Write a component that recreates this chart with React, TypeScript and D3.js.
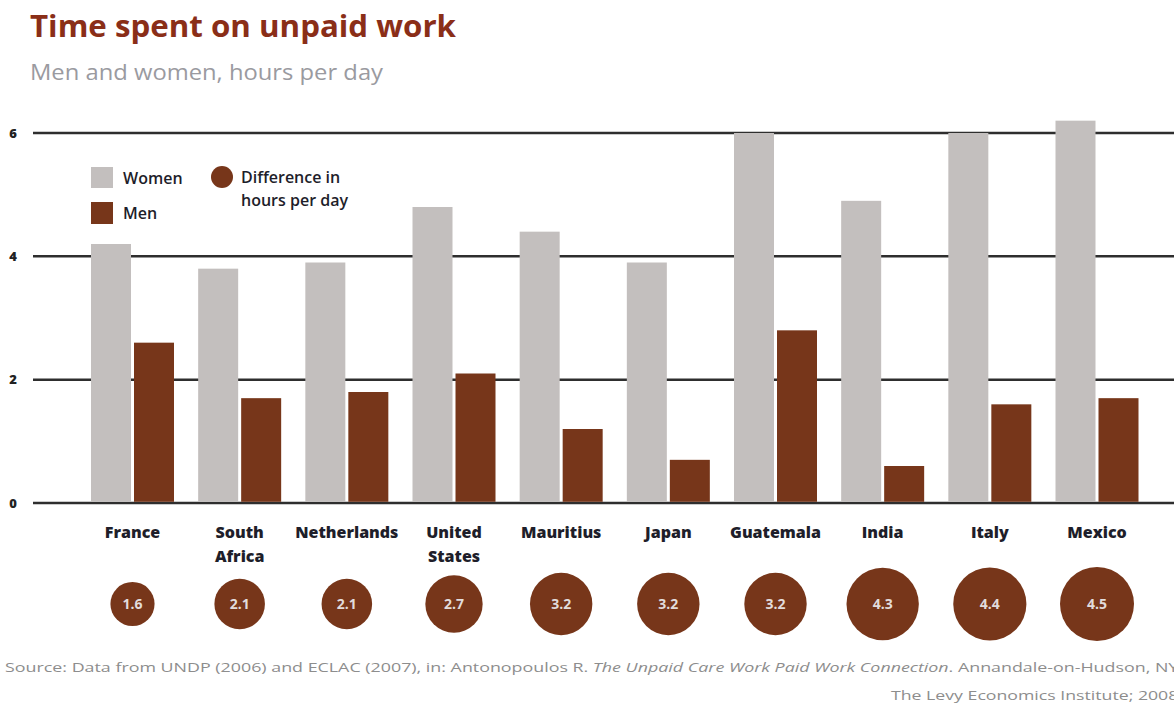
import React from "react";
import * as d3 from "d3";

const countries = ["France", "South Africa", "Netherlands", "United States", "Mauritius", "Japan", "Guatemala", "India", "Italy", "Mexico"];
const countryLines = [["France"], ["South", "Africa"], ["Netherlands"], ["United", "States"], ["Mauritius"], ["Japan"], ["Guatemala"], ["India"], ["Italy"], ["Mexico"]];
const women = [4.2, 3.8, 3.9, 4.8, 4.4, 3.9, 6.0, 4.9, 6.0, 6.2];
const men = [2.6, 1.7, 1.8, 2.1, 1.2, 0.7, 2.8, 0.6, 1.6, 1.7];
const difference = [1.6, 2.1, 2.1, 2.7, 3.2, 3.2, 3.2, 4.3, 4.4, 4.5];
const yTicks = [0, 2, 4, 6];

const W = 1174;
const H = 704;
const WOMEN_C = "#c3bfbe";
const MEN_C = "#77361a";
const GRID_C = "#2e2e2e";
const FONT = "'Open Sans', 'Noto Sans', sans-serif";

export default function App() {
  const x = d3.scalePoint<string>().domain(countries).range([132.5, 1097]);
  const y = d3.scaleLinear().domain([0, 6]).range([503, 133]);
  const r = d3.scaleSqrt().domain([0, 4.5]).range([0, 37]);
  const barW = 40;
  const gap = 1.5;

  return (
    <svg width={W} height={H} style={{ position: "absolute", left: 0, top: 0, background: "#fff" }} fontFamily={FONT}>
      <text x={30} y={37} fontSize={31} fontWeight={700} fill="#8a2e18" textLength={426} lengthAdjust="spacingAndGlyphs">Time spent on unpaid work</text>
      <text x={30} y={80} fontSize={22} fill="#9a9aa0" textLength={353} lengthAdjust="spacingAndGlyphs">Men and women, hours per day</text>

      {yTicks.map((t) => (
        <g key={t}>
          <line x1={33} x2={W} y1={y(t)} y2={y(t)} stroke={GRID_C} strokeWidth={2.5} />
          <text x={13} y={y(t) + 4.5} fontSize={13} fontWeight={800} fill="#222" textAnchor="middle">{t}</text>
        </g>
      ))}

      {countries.map((c, i) => {
        const cx = x(c) as number;
        return (
          <g key={c}>
            <rect x={cx - gap - barW} y={y(women[i])} width={barW} height={y(0) - y(women[i]) - 1.2} fill={WOMEN_C} />
            <rect x={cx + gap} y={y(men[i])} width={barW} height={y(0) - y(men[i]) - 1.2} fill={MEN_C} />
            {countryLines[i].map((ln, j) => (
              <text key={j} x={cx} y={538 + j * 24} fontSize={16} fontWeight={800} fill="#1e1e2a" textAnchor="middle">{ln}</text>
            ))}
            <circle cx={cx} cy={604} r={r(difference[i])} fill={MEN_C} />
            <text x={cx} y={609} fontSize={14} fontWeight={700} fill="#e2dcdc" textAnchor="middle">{difference[i].toFixed(1)}</text>
          </g>
        );
      })}

      {/* Legend */}
      <rect x={91} y={167} width={22} height={21} fill={WOMEN_C} />
      <text x={123} y={184} fontSize={16} fontWeight={600} fill="#1e1e2a">Women</text>
      <rect x={91} y={202} width={22} height={22} fill={MEN_C} />
      <text x={123} y={219} fontSize={16} fontWeight={600} fill="#1e1e2a">Men</text>
      <circle cx={222} cy={177} r={11} fill={MEN_C} />
      <text x={241} y={183} fontSize={16} fontWeight={600} fill="#1e1e2a">Difference in</text>
      <text x={241} y={206} fontSize={16} fontWeight={600} fill="#1e1e2a">hours per day</text>

      {/* Source */}
      <text x={5} y={672} fontSize={13.5} fill="#8d8d8d" textLength={1178} lengthAdjust="spacingAndGlyphs">
        Source: Data from UNDP (2006) and ECLAC (2007), in: Antonopoulos R. <tspan fontStyle="italic">The Unpaid Care Work Paid Work Connection</tspan>. Annandale-on-Hudson, NY:
      </text>
      <text x={891} y={700} fontSize={13.5} fill="#8d8d8d" textLength={292} lengthAdjust="spacingAndGlyphs">The Levy Economics Institute; 2008.</text>
    </svg>
  );
}
